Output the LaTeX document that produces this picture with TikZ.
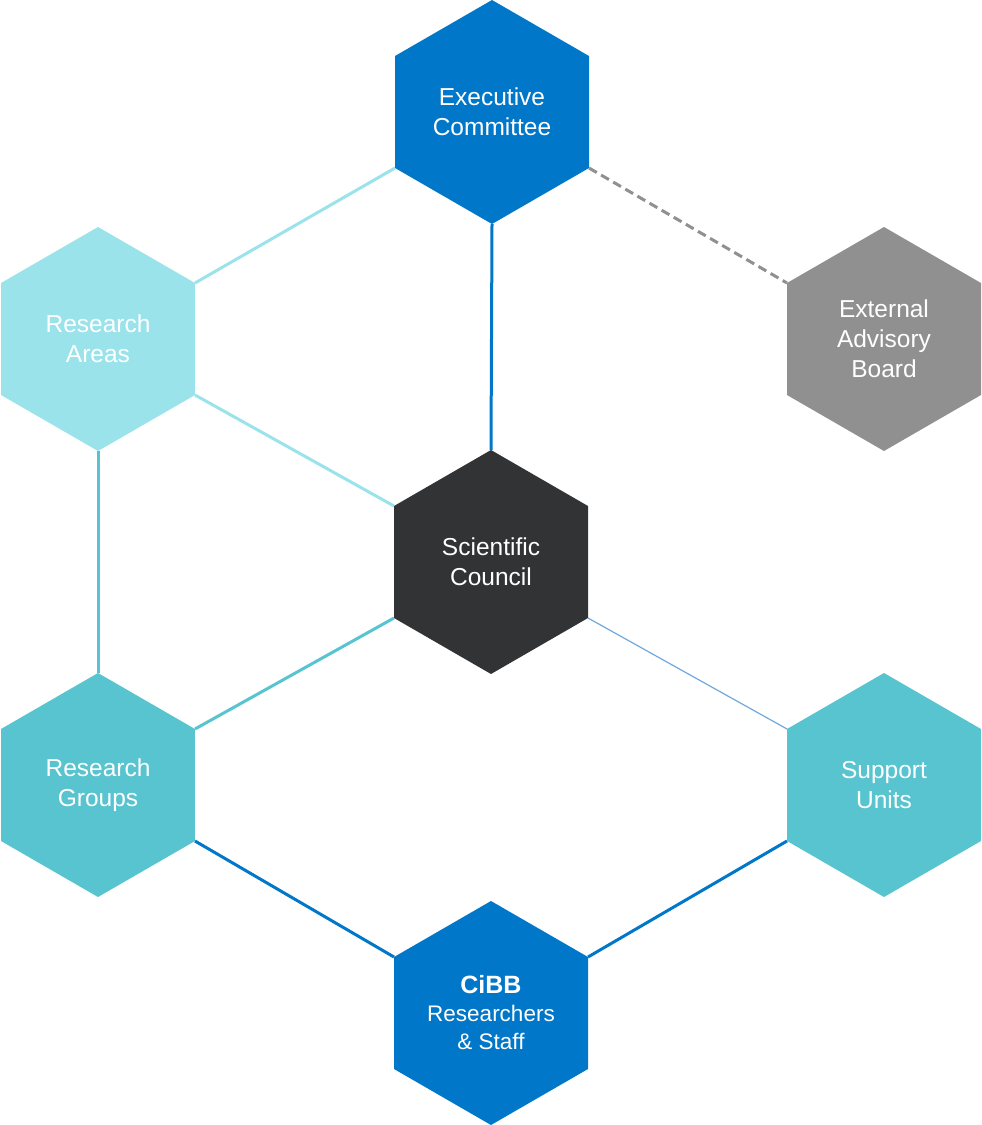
\documentclass[tikz,border=0pt]{standalone}
\usepackage{fontspec}
\setmainfont{Liberation Sans}
\usetikzlibrary{shapes.geometric}
\definecolor{cibbblue}{HTML}{0077C8}
\definecolor{lightcyan}{HTML}{9AE3EA}
\definecolor{midcyan}{HTML}{57C4CF}
\definecolor{darkhex}{HTML}{323335}
\definecolor{greyhex}{HTML}{909090}
\definecolor{thinblue}{HTML}{6FA8DC}
\tikzset{
	hexa/.style     = {regular polygon, regular polygon sides = 6,
		regular polygon rotate = 30, minimum size = 224pt, inner sep = 0pt,
		outer sep = 0pt, text = white, align = center,
		font = \fontsize{24.5}{30}\selectfont},
	link/.style     = {line width = 3pt}, % Link
	thinlink/.style = {line width = 1.2pt, thinblue} % Thin link
}
\newcommand{\hexlabel}[2]{#1\\#2}

\begin{document}
\begin{tikzpicture}[x=1pt, y=-1pt]
	\useasboundingbox (0,0) rectangle (982,1125);
	\draw
	node at (492,112)[hexa, fill = cibbblue] (ex) {\hexlabel{Executive}{Committee}}
	node at (98,339)[hexa, fill = lightcyan] (ra) {\hexlabel{Research}{Areas}}
	node at (884,339)[hexa, fill = greyhex] (eab) {External\\Advisory\\Board}
	node at (491,562)[hexa, fill = darkhex] (sc) {\hexlabel{Scientific}{Council}}
	node at (98,785)[hexa, fill = midcyan] (rg) {\hexlabel{Research}{Groups}}
	node at (884,785)[hexa, fill = midcyan] (su) {\hexlabel{Support}{Units}}
	node at (491,1013)[hexa, fill = cibbblue,
		font = \fontsize{22.5}{28}\selectfont] (cibb) {{\fontsize{25}{28}\selectfont\textbf{CiBB}}\\Researchers\\\& Staff};
	
	\draw[link, lightcyan](ex.210) -- (ra.30);
	\draw[link, lightcyan](ra.330) -- (sc.150);
	\draw[link, cibbblue](ex.270) -- (sc.90);
	\draw[link, greyhex, dash pattern = on 9pt off 5pt](ex.330) -- (eab.150);
	\draw[link, midcyan](ra.270) -- (rg.90);
	\draw[link, midcyan](sc.210) -- (rg.30);
	\draw[thinlink](sc.330) -- (su.150);
	\draw[link, cibbblue](rg.330) -- (cibb.150);
	\draw[link, cibbblue](su.210) -- (cibb.30);
\end{tikzpicture}
\end{document}
